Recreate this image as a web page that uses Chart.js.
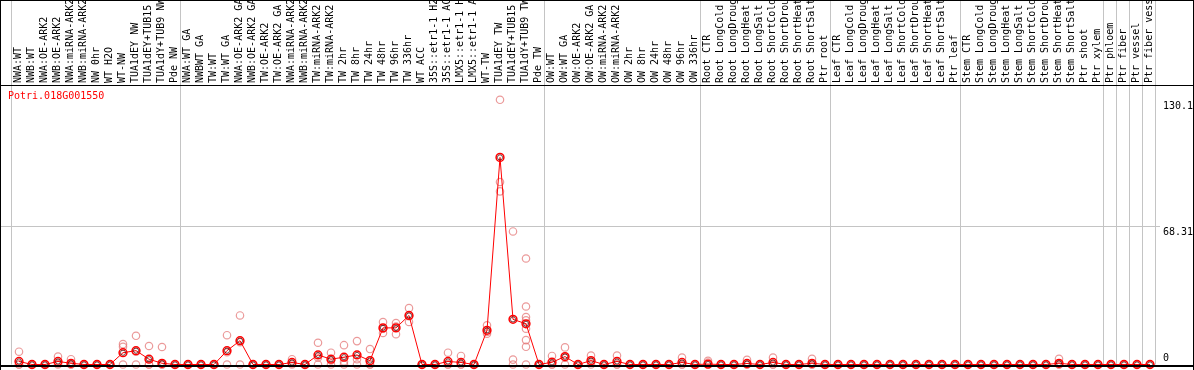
<!DOCTYPE html>
<html><head><meta charset="utf-8">
<script src="https://cdn.jsdelivr.net/npm/chart.js@4"></script>
<style>html,body{margin:0;padding:0;background:#fff}#wrap{width:1194px;height:370px;position:relative;background:#fff}</style>
</head><body><div id="wrap"><canvas id="c" width="1194" height="370"></canvas></div>
<script>
const geneId = "Potri.018G001550";
const categories = [
"NWA:WT","NWB:WT","NWA:OE-ARK2","NWB:OE-ARK2","NWA:miRNA-ARK2","NWB:miRNA-ARK2","NW 0hr","WT H2O","WT-NW","TUA1dEY NW","TUA1dEY+TUB15 NW","TUA1dY+TUB9 NW","Pde NW",
"NWA:WT GA","NWBWT GA","TW:WT","TW:WT GA","NWA:OE-ARK2 GA","NWB:OE-ARK2 GA","TW:OE-ARK2","TW:OE-ARK2 GA","NWA:miRNA-ARK2","NWB:miRNA-ARK2","TW:miRNA-ARK2","TW:miRNA-ARK2","TW 2hr","TW 8hr","TW 24hr","TW 48hr","TW 96hr","TW 336hr","WT ACC","35S::etr1-1 H2O","35S::etr1-1 ACC","LMX5::etr1-1 H2O","LMX5::etr1-1 ACC","WT-TW","TUA1dEY TW","TUA1dEY+TUB15 TW","TUA1dY+TUB9 TW","Pde TW",
"OW:WT","OW:WT GA","OW:OE-ARK2","OW:OE-ARK2 GA","OW:miRNA-ARK2","OW:miRNA-ARK2","OW 2hr","OW 8hr","OW 24hr","OW 48hr","OW 96hr","OW 336hr",
"Root CTR","Root LongCold","Root LongDrought","Root LongHeat","Root LongSalt","Root ShortCold","Root ShortDrought","Root ShortHeat","Root ShortSalt","Ptr root",
"Leaf CTR","Leaf LongCold","Leaf LongDrought","Leaf LongHeat","Leaf LongSalt","Leaf ShortCold","Leaf ShortDrought","Leaf ShortHeat","Leaf ShortSalt","Ptr leaf",
"Stem CTR","Stem LongCold","Stem LongDrought","Stem LongHeat","Stem LongSalt","Stem ShortCold","Stem ShortDrought","Stem ShortHeat","Stem ShortSalt","Ptr shoot",
"Ptr xylem","Ptr phloem","Ptr fiber","Ptr vessel","Ptr fiber vessel"
];
const meanValues = [
1.5,0,0,1.5,0.6,0,0,0,5.8,6.8,2.6,0.6,0,
0,0,0,6.8,11.7,0,0,0,1,0,4.7,2.6,3.6,4.7,1.9,18,18,24.1,0,0,1.5,1,0,16.8,101.8,22.2,20,0,
1.1,3.9,0,1.9,0,1.5,0,0,0,0,1,0,
0.2,0,0,0.5,0,1,0,0,0.6,0,
0,0,0,0,0,0,0,0,0,0,
0,0,0,0,0,0,0,0.6,0,0,
0,0,0,0,0
];
const replicateValues = [
[6.3,0,0],[0,0,0],[0,0,0],[3.9,0.5,0],[2.6,0,0],[0,0,0],[0,0,0],[0,0,0],[10,8.7,0],[14.1,6.3,0],[9.1,0,0],[8.6,0,0],[0,0,0],
[0,0,0],[0,0,0],[0,0,0],[14.4,6,0],[24.1,11,0],[0,0,0],[0,0,0],[0,0,0],[2.6,0.5,0],[0,0,0],[10.7,3.5,0],[5.8,2,0],[9.5,1.5,0],[11.5,2.6,0],[7.6,0,0],[20.9,17.6,15.5],[20.4,18.7,14.9],[27.7,23.7,20.9],[0,0,0],[0,0,0],[5.8,0,0],[4.2,0,0],[0,0,0],[19.3,16,15.1],[130.1,89.7,85.1],[65.4,2.4,0],[52.1,28.5,23.3,21.7,17.6,12,8.7,0],[0,0,0],
[4.2,0,0],[8.4,3.4,0],[0,0,0],[4.4,1.3,0],[0,0,0],[4.4,0,0],[0,0,0],[0,0,0],[0,0,0],[0,0,0],[3.4,0,0],[0,0,0],
[1.8,0.9,0],[0,0,0],[0,0,0],[2.3,0,0],[0,0,0],[3.4,0,0],[0,0,0],[0,0,0],[2.8,0,0],[0,0,0],
[0,0,0],[0,0,0],[0,0,0],[0,0,0],[0,0,0],[0,0,0],[0,0,0],[0,0,0],[0,0,0],[0,0,0],
[0,0,0],[0,0,0],[0,0,0],[0,0,0],[0,0,0],[0,0,0],[0,0,0],[2.8,0,0],[0,0,0],[0,0,0],
[0,0,0],[0,0,0],[0,0,0],[0,0,0],[0,0,0]
];
const yTickValues = [0, 68.31, 130.1];
const yTickLabels = ["0", "68.31", "130.1"];
const yGridValues = [68.31];
const groupBoundaries = [0, 13, 41, 53, 63, 73, 84, 85, 86, 87, 88];

const FONT = '10px "DejaVu Sans Mono", "Liberation Mono", monospace';

const meanPoints = meanValues.map((v, i) => ({x: i, y: v}));
const repPoints = [];
replicateValues.forEach((arr, i) => arr.forEach(v => repPoints.push({x: i, y: v})));

const decor = {
  id: 'decor',
  beforeDatasetsDraw(chart) {
    const ctx = chart.ctx, xs = chart.scales.x, ys = chart.scales.y;
    ctx.save();
    ctx.fillStyle = '#c4c4c4';
    groupBoundaries.forEach(k => {
      const x = Math.round(xs.getPixelForValue(k - 0.5) - 1.5);
      ctx.fillRect(x, 0, 1, chart.chartArea.bottom);
    });
    yGridValues.forEach(v => {
      const y = Math.round(ys.getPixelForValue(v));
      ctx.fillRect(0, y, 1160, 1);
    });
    ctx.restore();
  },
  afterDatasetsDraw(chart) {
    const ctx = chart.ctx, xs = chart.scales.x, ys = chart.scales.y;
    const W = chart.width, H = chart.height;
    ctx.save();
    ctx.fillStyle = '#000';
    ctx.fillRect(0, chart.chartArea.top, W, 1);
    ctx.fillRect(0, Math.round(ys.getPixelForValue(0)), W, 2);
    ctx.fillRect(0, 0, W, 1);
    ctx.fillRect(0, 0, 1, H);
    ctx.fillRect(W - 1, 0, 1, H);
    ctx.font = FONT;
    ctx.textBaseline = 'middle';
    ctx.textAlign = 'left';
    categories.forEach((lab, i) => {
      const x = xs.getPixelForValue(i);
      ctx.save();
      ctx.translate(x - 0.5, chart.chartArea.top - 2);
      ctx.rotate(-Math.PI / 2);
      ctx.fillText(lab, 0, 0);
      ctx.restore();
    });
    yTickValues.forEach((v, i) => {
      const y = ys.getPixelForValue(v);
      ctx.fillText(yTickLabels[i], 1163, v === 0 ? y - 6 : y + 6.5);
    });
    ctx.fillStyle = '#ff0000';
    ctx.fillText(geneId, 8, chart.chartArea.top + 11);
    ctx.restore();
  }
};

new Chart(document.getElementById('c'), {
  type: 'line',
  data: {
    datasets: [
      {
        data: meanPoints,
        showLine: false,
        pointRadius: 2.6,
        pointBorderWidth: 0.7,
        pointBorderColor: '#400000',
        pointBackgroundColor: 'rgba(0,0,0,0)',
        clip: false
      },
      {
        data: meanPoints,
        borderColor: '#ff0000',
        borderWidth: 1,
        tension: 0,
        pointRadius: 3.9,
        pointBorderWidth: 1.5,
        pointBorderColor: '#ff0000',
        pointBackgroundColor: 'rgba(0,0,0,0)',
        clip: false
      },
      {
        data: repPoints,
        showLine: false,
        pointRadius: 3.7,
        pointBorderWidth: 1.2,
        pointBorderColor: 'rgba(228,120,120,0.75)',
        pointBackgroundColor: 'rgba(0,0,0,0)',
        clip: false
      }
    ]
  },
  options: {
    responsive: false,
    animation: false,
    events: [],
    devicePixelRatio: 1,
    layout: {padding: {left: 12.5, right: 37.5, top: 85, bottom: 2}},
    plugins: {legend: {display: false}, tooltip: {enabled: false}, title: {display: false}},
    scales: {
      x: {type: 'linear', display: false, min: -0.5, max: categories.length - 0.5},
      y: {display: false, min: 0, max: 137.38}
    }
  },
  plugins: [decor]
});
</script></body></html>
